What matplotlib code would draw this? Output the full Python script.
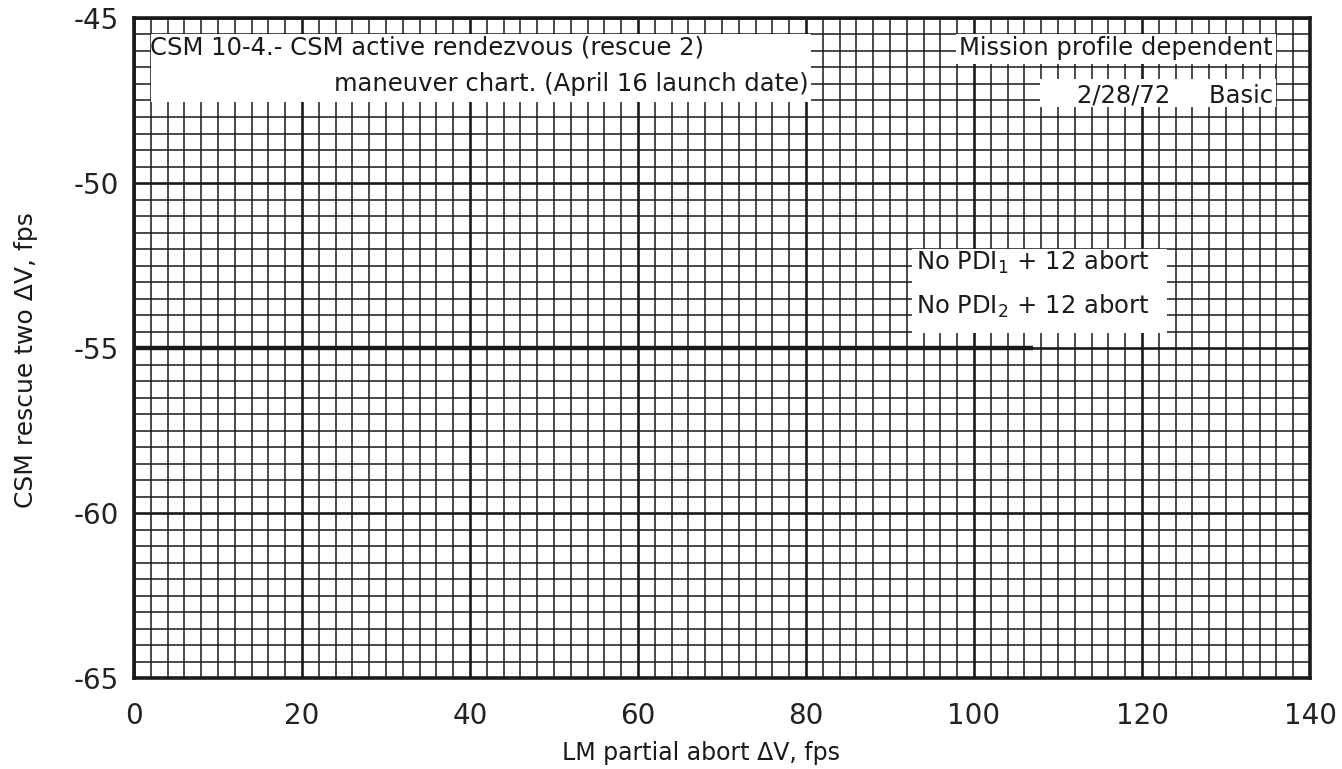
import matplotlib
matplotlib.use("Agg")
import matplotlib.pyplot as plt
from matplotlib.patches import Rectangle
from matplotlib.ticker import MultipleLocator

# Data
line_x = [0, 107]
line_y = [-55, -55]

x_ticks = [0, 20, 40, 60, 80, 100, 120, 140]
y_ticks = [-65, -60, -55, -50, -45]

title_1 = "CSM 10-4.- CSM active rendezvous (rescue 2)"
title_2 = "maneuver chart. (April 16 launch date)"
note_1 = "Mission profile dependent"
note_2 = "2/28/72     Basic"
curve_1 = r"No PDI$_{\mathregular{1}}$ + 12 abort"
curve_2 = r"No PDI$_{\mathregular{2}}$ + 12 abort"

plt.rcParams["font.family"] = ["DejaVu Sans"]
plt.rcParams["axes.unicode_minus"] = False
plt.rcParams["mathtext.default"] = "regular"

fig = plt.figure(figsize=(13.42, 7.69), dpi=100)
ax = fig.add_axes([0.0999, 0.1183, 0.8763, 0.8583])

ax.set_xlim(0, 140)
ax.set_ylim(-65, -45)
ax.set_xticks(x_ticks)
ax.set_yticks(y_ticks)
ax.xaxis.set_minor_locator(MultipleLocator(2))
ax.yaxis.set_minor_locator(MultipleLocator(0.5))
ax.tick_params(which="both", length=0)
ax.tick_params(axis="x", labelsize=20, pad=17, colors="#222222")
ax.tick_params(axis="y", labelsize=20, pad=11, colors="#222222")

ax.set_axisbelow(True)
ax.grid(which="major", color="#1a1a1a", linewidth=1.9)
ax.grid(which="minor", color="#1a1a1a", linewidth=1.1)
for s in ax.spines.values():
    s.set_linewidth(2.6)
    s.set_color("#1a1a1a")

# white label boxes that cover the grid
boxes = [
    (2, -47.55, 78.6, 2.05),
    (97.8, -46.4, 38.2, 0.9),
    (107.8, -47.7, 28.2, 0.85),
    (92.6, -54.55, 30.4, 2.55),
]
for bx, by, bw, bh in boxes:
    ax.add_patch(Rectangle((bx, by), bw, bh, facecolor="white",
                           edgecolor="none", zorder=1))

ax.plot(line_x, line_y, color="#1a1a1a", linewidth=3.2, zorder=2,
        solid_capstyle="butt")

tkw = dict(fontsize=17.5, color="#1a1a1a", va="center", zorder=3)
ax.text(1.9, -45.9, title_1, ha="left", **tkw)
ax.text(80.3, -47.0, title_2, ha="right", **tkw)
ax.text(135.6, -45.9, note_1, ha="right", **tkw)
ax.text(135.6, -47.35, note_2, ha="right", **tkw)
ax.text(93.1, -52.4, curve_1, ha="left", **tkw)
ax.text(93.1, -53.75, curve_2, ha="left", **tkw)

ax.set_xlabel("LM partial abort ΔV, fps", fontsize=17, color="#1a1a1a")
ax.set_ylabel("CSM rescue two ΔV, fps", fontsize=18, color="#1a1a1a")
ax.xaxis.set_label_coords(0.482, -0.095)
ax.yaxis.set_label_coords(-0.082, 0.482)

fig.savefig("out.png", dpi=100)
